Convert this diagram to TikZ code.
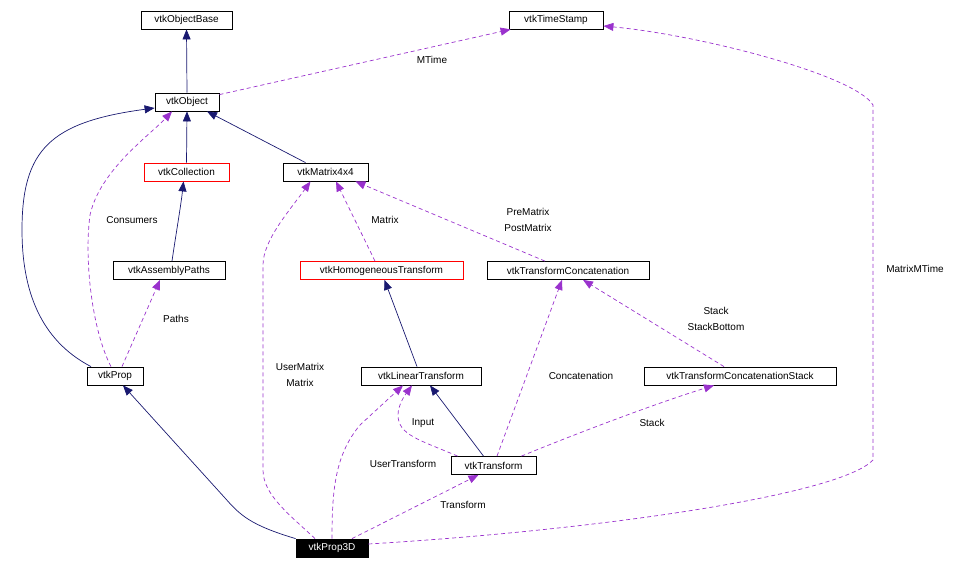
\documentclass[tikz,border=0pt]{standalone}
\usepackage{fontspec}
\setmainfont{Liberation Sans}
\usepackage{xcolor}
\usetikzlibrary{positioning, arrows.meta, calc}

\definecolor{inhcolor}{HTML}{191970}
\definecolor{usecolor}{HTML}{9A32CD}

\begin{document}
\begin{tikzpicture}[
  x=1pt, y=-1pt,
  cls/.style={rectangle, draw=black, fill=white, line width=0.8pt, minimum height=18pt, inner sep=1pt, font=\fontsize{10}{12}\selectfont},
  redcls/.style={cls, draw=red},
  maincls/.style={cls, fill=black, text=white},
  inherit/.style={-{Triangle[length=10pt, width=8pt]}, inhcolor, line width=0.7pt},
  uses/.style={-{Triangle[length=10pt, width=8pt]}, usecolor, line width=0.7pt, dash pattern=on 4pt off 3pt},
  lbl/.style={inner sep=0pt, align=center, font=\fontsize{10}{16}\selectfont},
]
\useasboundingbox (0,0) rectangle (965,570);

%% ── Classes ──────────────────────────────────────────────────────────────────
\node[cls, minimum width=91pt]     (objbase) at (186.5, 20)  {vtkObjectBase};
\node[cls, minimum width=94pt]     (stamp)   at (556, 20)    {vtkTimeStamp};
\node[cls, minimum width=64pt]     (obj)     at (187, 102)   {vtkObject};
\node[redcls, minimum width=85pt]  (coll)    at (186.5, 172) {vtkCollection};
\node[cls, minimum width=85pt]     (mat)     at (325.5, 172) {vtkMatrix4x4};
\node[cls, minimum width=112pt]    (paths)   at (169, 270.5) {vtkAssemblyPaths};
\node[redcls, minimum width=163pt] (homog)   at (381.5, 270.5) {vtkHomogeneousTransform};
\node[cls, minimum width=162pt]    (concat)  at (568, 270.5) {vtkTransformConcatenation};
\node[cls, minimum width=56pt]     (prop)    at (115, 376)   {vtkProp};
\node[cls, minimum width=120pt]    (lin)     at (421, 376)   {vtkLinearTransform};
\node[cls, minimum width=192pt]    (stack)   at (740, 376)   {vtkTransformConcatenationStack};
\node[cls, minimum width=85pt]     (xform)   at (493.5, 465.5) {vtkTransform};
\node[maincls, minimum width=72pt] (prop3d)  at (332, 548)   {vtkProp3D};

%% ── Inheritance ──────────────────────────────────────────────────────────────
\draw[inherit] (obj.north) -- (objbase.south);
\draw[inherit] (coll.north) -- (obj.south);
\draw[inherit] ([xshift=-20pt]mat.north) -- ([xshift=20pt]obj.south);
\draw[inherit] ([xshift=3pt]paths.north) .. controls (175,240) and (181,205) .. ([xshift=-3pt]coll.south);
\draw[inherit] ([xshift=-24pt]prop.north) .. controls (40,340) and (22,290) .. (22,230)
  .. controls (22,150) and (50,122) .. ([yshift=-6pt]obj.west);
\draw[inherit] (prop3d.north west) .. controls (250,525) and (240,515) .. (225,498)
  -- ([xshift=8pt]prop.south);
\draw[inherit] ([xshift=-4pt]lin.north) -- ([xshift=3pt]homog.south);
\draw[inherit] ([xshift=-10pt]xform.north) -- ([xshift=9pt]lin.south);

%% ── Usage ────────────────────────────────────────────────────────────────────
\draw[uses] ([yshift=-2pt]obj.north east) -- ([xshift=2pt]stamp.south west);
\draw[uses] ([yshift=4pt]prop3d.east) .. controls (600,530) and (840,495) .. (873,460)
  -- (873,105) .. controls (855,75) and (700,35) .. ([yshift=-6pt]stamp.east);
\draw[uses] ([xshift=-4pt]prop.north) .. controls (92,330) and (84,260) .. (90,215)
  .. controls (100,170) and (150,135) .. ([xshift=-15pt]obj.south);
\draw[uses] ([xshift=7pt]prop.north) -- ([xshift=-9pt]paths.south);
\draw[uses] ([xshift=-17pt]prop3d.north) .. controls (290,515) and (263,495) .. (263,470)
  -- (263,265) .. controls (263,240) and (290,210) .. ([xshift=-15pt]mat.south);
\draw[uses] ([xshift=-6.5pt]homog.north) -- ([xshift=10.5pt]mat.south);
\draw[uses] ([xshift=-23pt]concat.north) -- ([xshift=-13pt]mat.south east);
\draw[uses] ([xshift=-16pt]stack.north) -- ([xshift=15pt]concat.south);
\draw[uses] ([xshift=3.5pt]xform.north) -- ([xshift=-6pt]concat.south);
\draw[uses] ([xshift=-15pt]xform.north east) .. controls (580,432) and (660,402) .. ([xshift=-26pt]stack.south);
\draw[uses] ([xshift=7pt]xform.north west) .. controls (420,440) and (398,435) .. (398,415)
  .. controls (398,405) and (405,395) .. ([xshift=-9pt]lin.south);
\draw[uses] (prop3d.north) .. controls (332,490) and (335,455) .. (360,425)
  -- ([xshift=-18pt]lin.south);
\draw[uses] ([xshift=20pt]prop3d.north) -- ([xshift=-15pt]xform.south);

%% ── Edge labels ──────────────────────────────────────────────────────────────
\node[lbl] (lmtime)    at (432, 60)  {MTime};
\node[lbl] (lmatmtime) at (915, 269) {MatrixMTime};
\node[lbl] (lcons)     at (132, 220) {Consumers};
\node[lbl] (lpaths)    at (176, 319) {Paths};
\node[lbl] (lusermat)  at (300, 375) {UserMatrix\\Matrix};
\node[lbl] (lmatrix)   at (385, 220) {Matrix};
\node[lbl] (lprepost)  at (528, 220) {PreMatrix\\PostMatrix};
\node[lbl] (lstack2)   at (716, 319) {Stack\\StackBottom};
\node[lbl] (lconcat)   at (581, 376) {Concatenation};
\node[lbl] (lstack)    at (652, 423) {Stack};
\node[lbl] (linput)    at (423, 423) {Input};
\node[lbl] (lusertf)   at (403, 464) {UserTransform};
\node[lbl] (ltf)       at (463, 505) {Transform};

\end{tikzpicture}
\end{document}
